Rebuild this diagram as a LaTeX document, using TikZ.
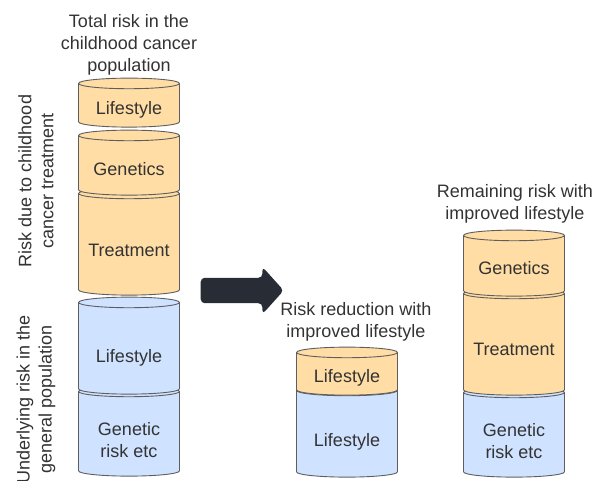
\documentclass[tikz,border=0pt]{standalone}
\usepackage{fontspec}
\setmainfont{Liberation Sans}
\definecolor{myorange}{RGB}{255,221,165}
\definecolor{myblue}{RGB}{207,226,255}
\definecolor{mygrey}{RGB}{94,94,94}
\definecolor{myink}{RGB}{51,51,51}
\definecolor{mydark}{RGB}{40,44,52}
\usetikzlibrary{shapes.geometric, shapes.arrows}
\tikzset{
    can/.style={
           cylinder,
           shape border rotate=90,
           aspect=0.105,
           draw=mygrey, line width=0.9pt,
           text width=101pt,
           minimum width=101pt,
           inner sep=0pt,
           },
    caption/.style={
           text=myink,
           align=center,
           inner sep=0pt,
           font=\lbl,
           },
}
\newcommand{\lbl}{\fontsize{18}{22}\selectfont}

\begin{document}
\begin{tikzpicture}[x=1pt, y=1pt]
  \useasboundingbox (0,0) rectangle (602,-481);
  \node[can, fill=myblue,   minimum height=90pt,  label={[caption, yshift=-6pt]center:Genetic\\risk etc}] (gsrA)  at (129, -434)   {};
  \node[can, fill=myblue,   minimum height=97pt,  label={[caption, yshift=-9pt]center:Lifestyle}]         (lifeB) at (129, -348.5) {};
  \node[can, fill=myorange, minimum height=107pt, label={[caption, yshift=-6pt]center:Treatment}]         (trtA)  at (129, -244.5) {};
  \node[can, fill=myorange, minimum height=65pt,  label={[caption, yshift=-4pt]center:Genetics}]          (genA)  at (129, -165.5) {};
  \node[can, fill=myorange, minimum height=49pt,  label={[caption, yshift=-4pt]center:Lifestyle}]         (lifeA) at (129, -105.5) {};
  \node[can, fill=myblue,   minimum height=92pt,  label={[caption, yshift=-8pt]center:Lifestyle}]         (lifeD) at (347, -434)   {};
  \node[can, fill=myorange, minimum height=48pt,  label={[caption, yshift=-4pt]center:Lifestyle}]         (lifeC) at (347, -374)   {};
  \node[can, fill=myblue,   minimum height=90pt,  label={[caption, yshift=-6pt]center:Genetic\\risk etc}] (gsrE)  at (514, -435)   {};
  \node[can, fill=myorange, minimum height=107pt, label={[caption, yshift=-5pt]center:Treatment}]         (trtE)  at (514, -344.5) {};
  \node[can, fill=myorange, minimum height=66pt,  label={[caption, yshift=-2pt]center:Genetics}]          (genE)  at (514, -266)   {};
  \node[single arrow, fill=mydark, draw=none, minimum height=83pt, inner xsep=0pt, inner ysep=12.5pt,
        single arrow head extend=11pt, single arrow tip angle=96, single arrow head indent=0pt,
        rounded corners=4pt] (arrow) at (236.5, -290.5) {};
  \node[caption]            (total)  at (129, -44.5) {Total risk in the\\childhood cancer\\population};
  \node[caption, rotate=90] (treat)  at (36, -181)   {Risk due to childhood\\cancer treatment};
  \node[caption, rotate=90] (under)  at (36, -399)   {Underlying risk in the\\general population};
  \node[caption]            (reduce) at (356, -321.5) {Risk reduction with\\improved lifestyle};
  \node[caption]            (remain) at (515, -204)   {Remaining risk with\\improved lifestyle};
\end{tikzpicture}
\end{document}
